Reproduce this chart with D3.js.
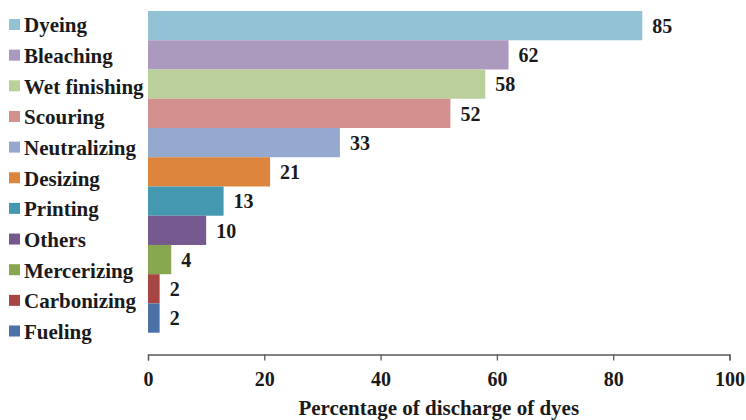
<!DOCTYPE html>
<html>
<head>
<meta charset="utf-8">
<script src="https://cdn.jsdelivr.net/npm/d3@7"></script>
<style>
  html, body { margin: 0; padding: 0; background: #fff; }
  svg { display: block; }
  svg text { font-family: "Times New Roman", "Liberation Serif", Times, "DejaVu Serif", serif; font-weight: bold; fill: #1a1a1a; }
</style>
</head>
<body>
<svg id="chart" width="746" height="420"></svg>
<script>
// Discharge of dyes by textile process
const categories = ["Dyeing", "Bleaching", "Wet finishing", "Scouring", "Neutralizing",
  "Desizing", "Printing", "Others", "Mercerizing", "Carbonizing", "Fueling"];
const values = [85, 62, 58, 52, 33, 21, 13, 10, 4, 2, 2];
const colors = ["#92C2D4", "#AB99BE", "#BBCF9A", "#D3908F", "#95A9CF",
  "#DD853D", "#4499B0", "#76598F", "#89A650", "#A84644", "#4A72A8"];
const xTicks = [0, 20, 40, 60, 80, 100];
const xTitle = "Percentage of discharge of dyes";

const serif = '"Times New Roman", "Liberation Serif", Times, "DejaVu Serif", serif';
const svg = d3.select("#chart");

const x = d3.scaleLinear().domain([0, 100]).range([148, 729.5]);
const y = d3.scaleBand().domain(categories).range([11, 332.7]).padding(0);

// bars
svg.append("g").selectAll("rect")
  .data(categories)
  .join("rect")
  .attr("x", x(0))
  .attr("y", d => y(d))
  .attr("width", (d, i) => x(values[i]) - x(0))
  .attr("height", y.bandwidth())
  .attr("fill", (d, i) => colors[i]);

// value labels
svg.append("g").selectAll("text")
  .data(categories)
  .join("text")
  .attr("x", (d, i) => x(values[i]) + 10)
  .attr("y", d => y(d) + y.bandwidth() / 2 + 7.2)
  .style("font-family", serif)
  .attr("font-size", 20)
  .text((d, i) => values[i]);

// x axis
const axis = d3.axisBottom(x).tickValues(xTicks).tickSize(6).tickSizeOuter(6).tickPadding(11);
const gx = svg.append("g").attr("transform", "translate(0,354.5)").call(axis);
gx.attr("font-family", null).attr("font-size", null);
gx.select(".domain").attr("stroke", "#595959").attr("stroke-width", 1.3);
gx.selectAll(".tick line").attr("stroke", "#595959").attr("stroke-width", 1.3);
gx.selectAll(".tick text")
  .style("font-family", serif)
  .attr("font-size", 20)
  .attr("font-weight", "bold")
  .attr("fill", "#1a1a1a");

svg.append("text")
  .attr("x", (x(0) + x(100)) / 2)
  .attr("y", 415)
  .attr("text-anchor", "middle")
  .style("font-family", serif)
  .attr("font-size", 21)
  .text(xTitle);

// legend
const legendStep = 30.65;
const lg = svg.append("g").selectAll("g")
  .data(categories)
  .join("g")
  .attr("transform", (d, i) => `translate(0,${32.3 + i * legendStep})`);
lg.append("rect")
  .attr("x", 9).attr("y", -13.3)
  .attr("width", 11).attr("height", 11)
  .attr("fill", (d, i) => colors[i]);
lg.append("text")
  .attr("x", 24).attr("y", 0)
  .style("font-family", serif)
  .attr("font-size", 21)
  .text(d => d);
</script>
</body>
</html>
